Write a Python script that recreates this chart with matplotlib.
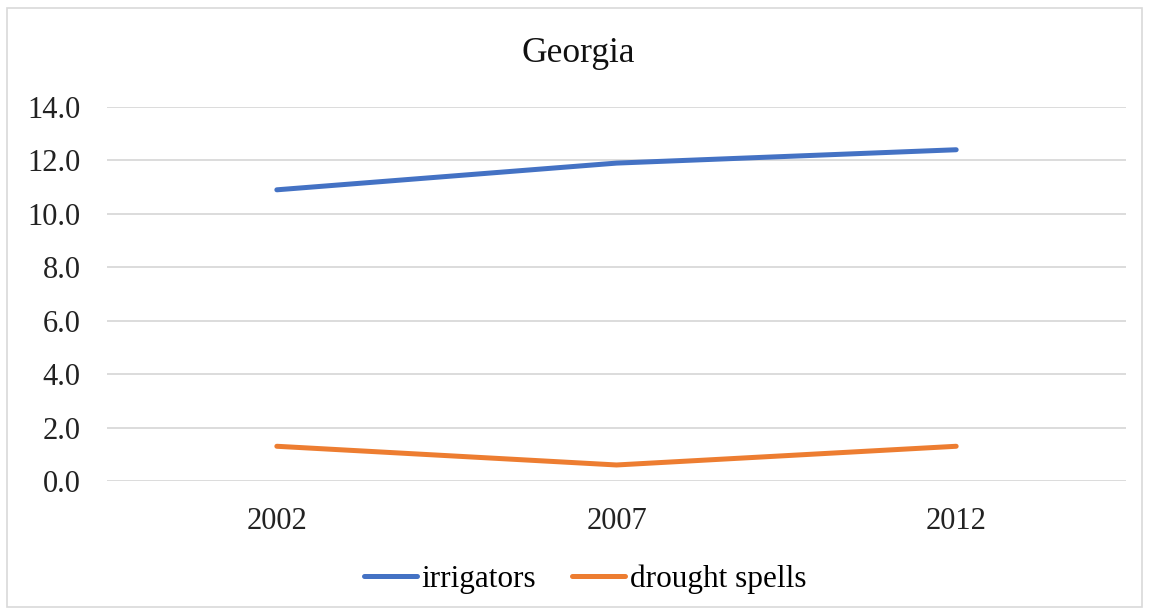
import matplotlib.pyplot as plt
from matplotlib.patches import Rectangle

years = ['2002', '2007', '2012']
irrigators = [10.9, 11.9, 12.4]
drought_spells = [1.3, 0.6, 1.3]
yticks = [0, 2, 4, 6, 8, 10, 12, 14]

plt.rcParams['font.family'] = ['Liberation Serif', 'DejaVu Serif']

W, H = 1149, 613
fig = plt.figure(figsize=(W / 100, H / 100), dpi=100)
fig.patches.append(Rectangle((7 / W, 6 / H), 1135 / W, 599 / H, transform=fig.transFigure,
                             fill=False, edgecolor='#d9d9d9', linewidth=1.2))

ax = fig.add_axes([107 / W, 1 - 481 / H, (1126 - 107) / W, (481 - 107) / H])
x = range(len(years))
ax.plot(x, irrigators, color='#4472C4', lw=3.6, solid_capstyle='round', label='irrigators')
ax.plot(x, drought_spells, color='#ED7D31', lw=3.6, solid_capstyle='round', label='drought spells')

ax.set_xlim(-0.5, len(years) - 0.5)
ax.set_ylim(0, 14)
ax.set_yticks(yticks)
ax.set_yticklabels([f'{v:.1f}' for v in yticks])
ax.set_xticks(list(x))
ax.set_xticklabels(years)
ax.tick_params(length=0, labelsize=22, colors='#222222')
ax.tick_params(axis='y', pad=19)
ax.tick_params(axis='x', pad=19)
ax.grid(axis='y', color='#d9d9d9', lw=1.3)
ax.set_axisbelow(True)
for s in ax.spines.values():
    s.set_visible(False)

fig.text(578 / W, 1 - 53 / H, 'Georgia', ha='center', va='center', fontsize=25.5, color='#111111')

fig.legend(loc='center', bbox_to_anchor=(585 / W, 1 - 579 / H), ncol=2, frameon=False,
           fontsize=22.5, handlelength=1.7, handletextpad=0.15, columnspacing=1.15)

fig.savefig('out.png', dpi=100)
